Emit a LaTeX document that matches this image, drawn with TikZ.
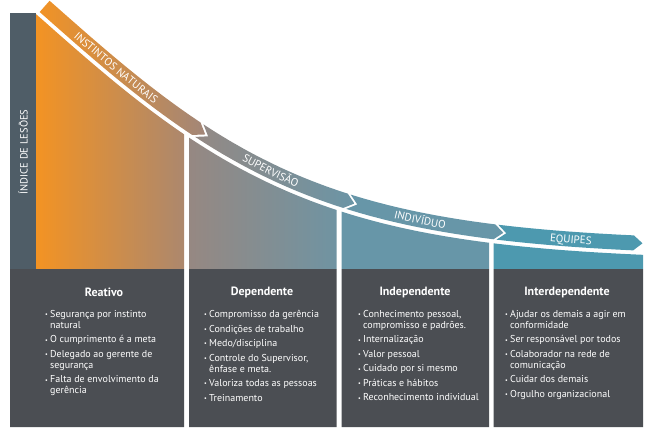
\documentclass[tikz,border=0pt]{standalone}
\usepackage{fontspec}
\setmainfont{PT Sans}
\usetikzlibrary{decorations.text}
\definecolor{eixo}{HTML}{4F5D67}
\definecolor{caixa}{HTML}{4B4E53}
\definecolor{laranja}{HTML}{F39323}
\definecolor{marrom}{HTML}{A28678}
\definecolor{cinza}{HTML}{968882}
\definecolor{azulcinza}{HTML}{6B95A6}
\definecolor{azul}{HTML}{6796A8}
\definecolor{petroleo}{HTML}{4D99AF}
\tikzset{declare function={cy(\p)=15+246*tanh(0.0036*(\p-37));
    cm(\p)=0.8856*(1-pow(tanh(0.0036*(\p-37)),2));
    ox(\p,\q)=\p+\q*cm(\p)/sqrt(1+pow(cm(\p),2));
    oy(\p,\q)=cy(\p)-\q/sqrt(1+pow(cm(\p),2));},
  rotulo/.style={decorate,decoration={text along path,text align=center,text color=white,
      text={|\fontsize{11}{13}\selectfont|#1}}},
  titulo/.style={white,font=\bfseries\fontsize{12}{14}\selectfont},
  lista/.style={white,anchor=north west,inner sep=0pt,align=left,font=\fontsize{10}{11}\selectfont}}
\newcommand\faixa[3]{plot[domain=#1:#2] ({ox(\x,4)},{oy(\x,4)}) -- ({ox(#2+9,11.5)},{oy(#2+9,11.5)})
  -- plot[domain=#2:#1] ({ox(\x,19)},{oy(\x,19)}) -- ({ox(#1+#3,11.5)},{oy(#1+#3,11.5)}) -- cycle}
\newcommand\coluna[2]{(#1,269) -- plot[domain=#1:#2] (\x,{cy(\x)}) -- (#2,269) -- cycle}
\newcommand\bul{\makebox[5pt][l]{\fontsize{6}{6}\selectfont\raisebox{.8pt}{•}}}
\newcommand\cont{\hspace*{5pt}}
\begin{document}
\begin{tikzpicture}[x=1pt,y=-1pt,samples=40]
\useasboundingbox (0,0) rectangle (650,436);
\fill[eixo] (10,13) rectangle (36,269);
\node[white,rotate=90,font=\fontsize{10.5}{12}\selectfont] (eixo) at (23,152) {ÍNDICE DE LESÕES};
% colunas com a faixa curva por cima
\shade[left color=laranja,right color=marrom] \coluna{36}{184} \faixa{37}{190}{0};
\shade[left color=cinza,right color=azulcinza] \coluna{189}{336.5} \faixa{193}{342}{9};
\fill[azul] \coluna{341.5}{489} \faixa{345}{493}{9};
\fill[petroleo] \coluna{493.5}{643} \faixa{496}{633}{9};
\path[rotulo={INSTINTOS NATURAIS}] plot[domain=48:172] ({ox(\x,7.5)},{oy(\x,7.5)});
\path[rotulo={SUPERVISÃO}] plot[domain=212:322] ({ox(\x,7.5)},{oy(\x,7.5)});
\path[rotulo={INDIVÍDUO}] plot[domain=368:468] ({ox(\x,7.5)},{oy(\x,7.5)});
\path[rotulo={EQUIPES}] plot[domain=520:620] ({ox(\x,7.5)},{oy(\x,7.5)});
% caixas
\fill[caixa] (10,269) rectangle (184,427) (189,269) rectangle (336.5,427)
  (341.5,269) rectangle (489,427) (493.5,269) rectangle (643,427);
\node[titulo] (reativo) at (104,292) {Reativo};
\node[titulo] (dependente) at (262,292) {Dependente};
\node[titulo] (independente) at (415,292) {Independente};
\node[titulo] (interdependente) at (567,292) {Interdependente};
\node[lista] (listareativo) at (45,310) {\bul Segurança por instinto\\\cont natural\\[3.5pt]
  \bul O cumprimento é a meta\\[3.5pt]\bul Delegado ao gerente de\\\cont segurança\\[3.5pt]
  \bul Falta de envolvimento da\\\cont gerência};
\node[lista] (listadependente) at (204,310) {\bul Compromisso da gerência\\[3.5pt]
  \bul Condições de trabalho\\[3.5pt]\bul Medo/disciplina\\[3.5pt]
  \bul Controle do Supervisor,\\\cont ênfase e meta.\\[3.5pt]
  \bul Valoriza todas as pessoas\\[3.5pt]\bul Treinamento};
\node[lista] (listaindependente) at (358,310) {\bul Conhecimento pessoal,\\\cont compromisso e padrões.\\[3.5pt]
  \bul Internalização\\[3.5pt]\bul Valor pessoal\\[3.5pt]\bul Cuidado por si mesmo\\[3.5pt]
  \bul Práticas e hábitos\\[3.5pt]\bul Reconhecimento individual};
\node[lista] (listainterdependente) at (505,310) {\bul Ajudar os demais a agir em\\\cont conformidade\\[3.5pt]
  \bul Ser responsável por todos\\[3.5pt]\bul Colaborador na rede de\\\cont comunicação\\[3.5pt]
  \bul Cuidar dos demais\\[3.5pt]\bul Orgulho organizacional};
\end{tikzpicture}
\end{document}
